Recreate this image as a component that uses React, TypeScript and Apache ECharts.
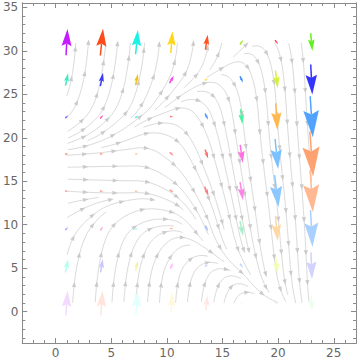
import React, { useEffect, useRef } from "react";
import * as echarts from "echarts";

// grid of sample points
const xs = [1, 4.14, 7.29, 10.43, 13.57, 16.71, 19.86, 23];
const ys = [31, 26.71, 22.43, 18.14, 13.86, 9.57, 5.29, 1];

// vector components (data units), rows from top (y=31) to bottom (y=1)
const U = [
  [0.13, 0.24, 0.2, 0.15, 0.21, 0.27, 0.27, 0.15],
  [0.24, 0.24, 0.21, 0.39, 0.35, 0.27, 0.21, 0.14],
  [0.27, 0.27, 0.27, 0.31, 0.27, 0.15, 0.15, 0.23],
  [0.31, 0.31, 0.25, 0.35, 0.27, 0.24, 0.27, 0.29],
  [0.31, 0.31, 0.31, 0.35, 0.35, 0.27, 0.35, 0.24],
  [0.27, 0.22, 0.27, 0.31, 0.22, 0.27, 0.2, 0.18],
  [0.24, 0.2, 0.21, 0.27, 0.3, 0.27, 0.18, 0.09],
  [0.15, 0.14, 0.15, 0.1, 0.15, 0.22, 0.3, 0.1],
];
const V = [
  [3.0, 3.07, 2.8, 2.5, 1.72, 0.57, -0.46, -2.03],
  [1.43, 1.54, 1.31, 0.87, 0.17, -0.69, -2.03, -3.45],
  [0.34, 0.4, 0.29, 0.0, -0.69, -1.72, -3.07, -4.71],
  [0.03, 0.03, 0.0, -0.4, -1.03, -2.07, -3.45, -5.17],
  [-0.03, -0.03, 0.0, -0.29, -1.03, -2.07, -3.68, -4.83],
  [0.34, 0.46, 0.23, 0.0, -0.69, -1.72, -2.87, -4.25],
  [1.53, 1.54, 1.15, 0.69, 0.15, -0.46, -1.84, -3.1],
  [2.87, 2.87, 2.76, 2.3, 1.7, 0.34, -0.1, -1.7],
];
const COLORS = [
  ["#c21cff", "#ff4a1c", "#1ef0e6", "#ffd61a", "#ff5222", "#a6e632", "#ff3a5c", "#62f022"],
  ["#40e8c0", "#3a3af8", "#f2c222", "#f046e0", "#ffe24a", "#3a86ff", "#d8f03e", "#3434ff"],
  ["#9462ff", "#ff52b0", "#44f0f0", "#ff7070", "#4a92ff", "#52f0a2", "#ffb84e", "#52a2ff"],
  ["#ff8282", "#ff8a82", "#ffb482", "#ff8888", "#ff6a6a", "#ff70e2", "#7ac2ff", "#ffa272"],
  ["#ff9090", "#ff9488", "#ffc080", "#ff9282", "#ff7a7a", "#ff82e8", "#8cc8ff", "#ffb892"],
  ["#baa2ff", "#ffa2e2", "#92ffff", "#ffb8a2", "#a2baff", "#a8f0c8", "#ffd8a2", "#aad0ff"],
  ["#b2fff0", "#c8c8ff", "#f8f0aa", "#ffb2ff", "#c2d8ff", "#c2d2ff", "#f0ffb2", "#d2d2ff"],
  ["#f2daff", "#ffe4dc", "#e2ffff", "#fff8da", "#ffe8e2", "#f0ffe2", "#ffe2ea", "#eaffea"],
];

const X_MAJOR = [0, 5, 10, 15, 20, 25];
const Y_MAJOR = [0, 5, 10, 15, 20, 25, 30, 35];
const X_MINOR = Array.from({ length: 31 }, (_, i) => i - 3);
const Y_MINOR = Array.from({ length: 39 }, (_, i) => i - 3);

const X_MIN = -3, X_MAX = 27, Y_MIN = -3.6, Y_MAX = 35.5;
const G = { left: 18, right: 4, top: 3, bottom: 18 };
const W = 360, H = 361;
const PW = W - G.left - G.right, PH = H - G.top - G.bottom;
const KX = PW / (X_MAX - X_MIN), KY = PH / (Y_MAX - Y_MIN);

type P = [number, number];

function fieldAt(x: number, y: number): P | null {
  const n = xs.length;
  if (x < xs[0] || x > xs[n - 1] || y < ys[n - 1] || y > ys[0]) return null;
  let i = 0;
  while (i < n - 2 && x > xs[i + 1]) i++;
  let j = 0;
  while (j < n - 2 && y < ys[j + 1]) j++;
  const tx = (x - xs[i]) / (xs[i + 1] - xs[i]);
  const ty = (ys[j] - y) / (ys[j] - ys[j + 1]);
  const b = (A: number[][]) =>
    A[j][i] * (1 - tx) * (1 - ty) + A[j][i + 1] * tx * (1 - ty) + A[j + 1][i] * (1 - tx) * ty + A[j + 1][i + 1] * tx * ty;
  return [b(U), b(V)];
}

function dirPx(px: number, py: number, sgn: number): P | null {
  const f = fieldAt(X_MIN + px / KX, Y_MAX - py / KY);
  if (!f) return null;
  const dx = f[0] * KX * sgn, dy = -f[1] * KY * sgn;
  const m = Math.hypot(dx, dy);
  if (m < 0.2) return null;
  return [dx / m, dy / m];
}

function buildStreams(): P[][] {
  const dsep = 12, dtest = 4.8, h = 1.5;
  const cell = dsep;
  const gx0 = (xs[0] - X_MIN) * KX, gx1 = (xs[xs.length - 1] - X_MIN) * KX;
  const gy0 = (Y_MAX - ys[0]) * KY, gy1 = (Y_MAX - ys[ys.length - 1]) * KY;
  const nc = Math.ceil((gx1 - gx0) / cell) + 2, nr = Math.ceil((gy1 - gy0) / cell) + 2;
  const main: P[][] = Array.from({ length: nc * nr }, () => []);
  const nearMain = (p: P, d: number) => {
    const c = Math.floor((p[0] - gx0) / cell), r = Math.floor((p[1] - gy0) / cell);
    for (let i = c - 1; i <= c + 1; i++)
      for (let j = r - 1; j <= r + 1; j++) {
        if (i < 0 || j < 0 || i >= nc || j >= nr) continue;
        for (const q of main[j * nc + i]) if ((q[0] - p[0]) ** 2 + (q[1] - p[1]) ** 2 < d * d) return true;
      }
    return false;
  };
  const addMain = (p: P) => {
    const c = Math.floor((p[0] - gx0) / cell), r = Math.floor((p[1] - gy0) / cell);
    if (c >= 0 && r >= 0 && c < nc && r < nr) main[r * nc + c].push(p);
  };
  const trace = (seed: P, sgn: number) => {
    const out: P[] = [];
    const own = new Map<number, number[][]>();
    let p = seed;
    for (let k = 1; k <= 1200; k++) {
      const d1 = dirPx(p[0], p[1], sgn);
      if (!d1) break;
      const m: P = [p[0] + (d1[0] * h) / 2, p[1] + (d1[1] * h) / 2];
      const d2 = dirPx(m[0], m[1], sgn);
      if (!d2) break;
      const q: P = [p[0] + d2[0] * h, p[1] + d2[1] * h];
      if (!dirPx(q[0], q[1], sgn)) break;
      if (nearMain(q, dtest)) break;
      const c = Math.floor(q[0] / dtest), r = Math.floor(q[1] / dtest);
      let hit = false;
      for (let i = c - 1; i <= c + 1 && !hit; i++)
        for (let j = r - 1; j <= r + 1 && !hit; j++) {
          const arr = own.get(j * 10000 + i);
          if (arr)
            for (const o of arr)
              if (k - o[2] > 15 && (o[0] - q[0]) ** 2 + (o[1] - q[1]) ** 2 < dtest * dtest) {
                hit = true;
                break;
              }
        }
      if (hit) break;
      const kk = r * 10000 + c;
      if (!own.has(kk)) own.set(kk, []);
      own.get(kk)!.push([q[0], q[1], k]);
      out.push(q);
      p = q;
    }
    return out;
  };

  const lines: P[][] = [];
  const queue: P[] = [];
  const fallback: P[] = [];
  for (let py = gy0 + 2; py < gy1; py += dsep / 2)
    for (let px = gx0 + 2; px < gx1; px += dsep / 2) fallback.push([px, py]);
  let fi = 0;
  queue.push([gx0 + 3, (Y_MAX - 18) * KY]);
  let guard = 0;
  while (guard++ < 20000) {
    let s: P | undefined;
    if (queue.length) s = queue.shift();
    else if (fi < fallback.length) s = fallback[fi++];
    else break;
    if (!s) break;
    if (!dirPx(s[0], s[1], 1)) continue;
    if (nearMain(s, dsep * 0.92)) continue;
    const f = trace(s, 1);
    const b = trace(s, -1);
    const line: P[] = [...b.reverse(), s, ...f];
    if (line.length * h < 18) continue;
    line.forEach(addMain);
    lines.push(line);
    for (let k = 1; k < line.length - 1; k += 4) {
      const tx = line[k + 1][0] - line[k - 1][0], ty = line[k + 1][1] - line[k - 1][1];
      const tl = Math.hypot(tx, ty) || 1;
      const nx = -ty / tl, ny = tx / tl;
      queue.push([line[k][0] + nx * dsep, line[k][1] + ny * dsep]);
      queue.push([line[k][0] - nx * dsep, line[k][1] - ny * dsep]);
    }
  }
  return lines.map((l) => {
    const out: P[] = [];
    for (let k = 0; k < l.length; k += 2) out.push([X_MIN + l[k][0] / KX, Y_MAX - l[k][1] / KY]);
    const last = l[l.length - 1];
    out.push([X_MIN + last[0] / KX, Y_MAX - last[1] / KY]);
    return out;
  });
}

const AX = "#8a8a8a";
const LBL = "#666666";

function xAxisDef(position: string, values: number[], len: number, labels: boolean) {
  return {
    type: "value",
    min: X_MIN,
    max: X_MAX,
    position,
    axisLine: { show: true, onZero: false, lineStyle: { color: AX, width: 1 } },
    axisTick: { show: true, inside: true, length: len, customValues: values, lineStyle: { color: AX, width: 1 } },
    axisLabel: labels
      ? { show: true, customValues: values, color: LBL, fontSize: 12, fontFamily: "DejaVu Sans", margin: 4 }
      : { show: false },
    splitLine: { show: false },
  };
}
function yAxisDef(position: string, values: number[], len: number, labels: boolean) {
  return {
    type: "value",
    min: Y_MIN,
    max: Y_MAX,
    position,
    axisLine: { show: true, onZero: false, lineStyle: { color: AX, width: 1 } },
    axisTick: { show: true, inside: true, length: len, customValues: values, lineStyle: { color: AX, width: 1 } },
    axisLabel: labels
      ? { show: true, customValues: values, color: LBL, fontSize: 12, fontFamily: "DejaVu Sans", margin: 4 }
      : { show: false },
    splitLine: { show: false },
  };
}

export default function App() {
  const ref = useRef<HTMLDivElement>(null);
  useEffect(() => {
    if (!ref.current) return;
    const chart = echarts.init(ref.current, undefined, { renderer: "svg" });
    const streams = buildStreams();
    const vecData: number[][] = [];
    for (let j = 0; j < ys.length; j++)
      for (let i = 0; i < xs.length; i++) vecData.push([xs[i], ys[j], U[j][i], V[j][i], j, i]);

    chart.setOption({
      animation: false,
      grid: { left: G.left, right: G.right, top: G.top, bottom: G.bottom, containLabel: false },
      xAxis: [
        xAxisDef("bottom", X_MAJOR, 5, true),
        xAxisDef("bottom", X_MINOR, 3, false),
        xAxisDef("top", X_MAJOR, 5, false),
        xAxisDef("top", X_MINOR, 3, false),
      ],
      yAxis: [
        yAxisDef("left", Y_MAJOR, 5, true),
        yAxisDef("left", Y_MINOR, 3, false),
        yAxisDef("right", Y_MAJOR, 5, false),
        yAxisDef("right", Y_MINOR, 3, false),
      ],
      series: [
        {
          type: "custom",
          coordinateSystem: "cartesian2d",
          xAxisIndex: 0,
          yAxisIndex: 0,
          silent: true,
          z: 2,
          data: streams.map((l, i) => [l[0][0], l[0][1], i]),
          renderItem: (params: any, api: any) => {
            const line = streams[params.dataIndex];
            const pts = line.map((p) => api.coord(p));
            const children: any[] = [
              {
                type: "polyline",
                shape: { points: pts },
                style: { stroke: "#dadada", lineWidth: 1, fill: null },
              },
            ];
            let acc = 0, next = 15;
            for (let k = 1; k < pts.length; k++) {
              const dx = pts[k][0] - pts[k - 1][0], dy = pts[k][1] - pts[k - 1][1];
              const sl = Math.hypot(dx, dy);
              acc += sl;
              if (acc >= next && sl > 0) {
                const tx = dx / sl, ty = dy / sl, nx = -ty, ny = tx;
                const c = pts[k];
                const tip = [c[0] + tx * 3, c[1] + ty * 3];
                const bx = c[0] - tx * 2.5, by = c[1] - ty * 2.5;
                children.push({
                  type: "polygon",
                  shape: { points: [tip, [bx + nx * 2.1, by + ny * 2.1], [bx - nx * 2.1, by - ny * 2.1]] },
                  style: { fill: "#cbcbcb" },
                });
                next += 32;
              }
            }
            return { type: "group", children };
          },
        },
        {
          type: "custom",
          coordinateSystem: "cartesian2d",
          xAxisIndex: 0,
          yAxisIndex: 0,
          silent: true,
          z: 3,
          data: vecData,
          renderItem: (params: any, api: any) => {
            const d = vecData[params.dataIndex];
            const [x, y, u, v, j, i] = d;
            const tail = api.coord([x - u / 2, y - v / 2]);
            const tip = api.coord([x + u / 2, y + v / 2]);
            const dx = tip[0] - tail[0], dy = tip[1] - tail[1];
            const L = Math.hypot(dx, dy) || 1;
            const ux = dx / L, uy = dy / L, nx = -uy, ny = ux;
            const hl = 0.65 * L, hw = 0.19 * L;
            const bx = tip[0] - ux * hl, by = tip[1] - uy * hl;
            const ntx = tip[0] - ux * hl * 0.85, nty = tip[1] - uy * hl * 0.85;
            const color = COLORS[j][i];
            return {
              type: "group",
              children: [
                {
                  type: "line",
                  shape: { x1: tail[0], y1: tail[1], x2: ntx, y2: nty },
                  style: { stroke: color, lineWidth: 1.5 },
                },
                {
                  type: "polygon",
                  shape: {
                    points: [
                      [tip[0], tip[1]],
                      [bx + nx * hw, by + ny * hw],
                      [ntx, nty],
                      [bx - nx * hw, by - ny * hw],
                    ],
                  },
                  style: { fill: color },
                },
              ],
            };
          },
        },
      ],
    });
    return () => chart.dispose();
  }, []);
  return <div ref={ref} style={{ width: W, height: H, position: "absolute", left: 0, top: 0 }} />;
}
